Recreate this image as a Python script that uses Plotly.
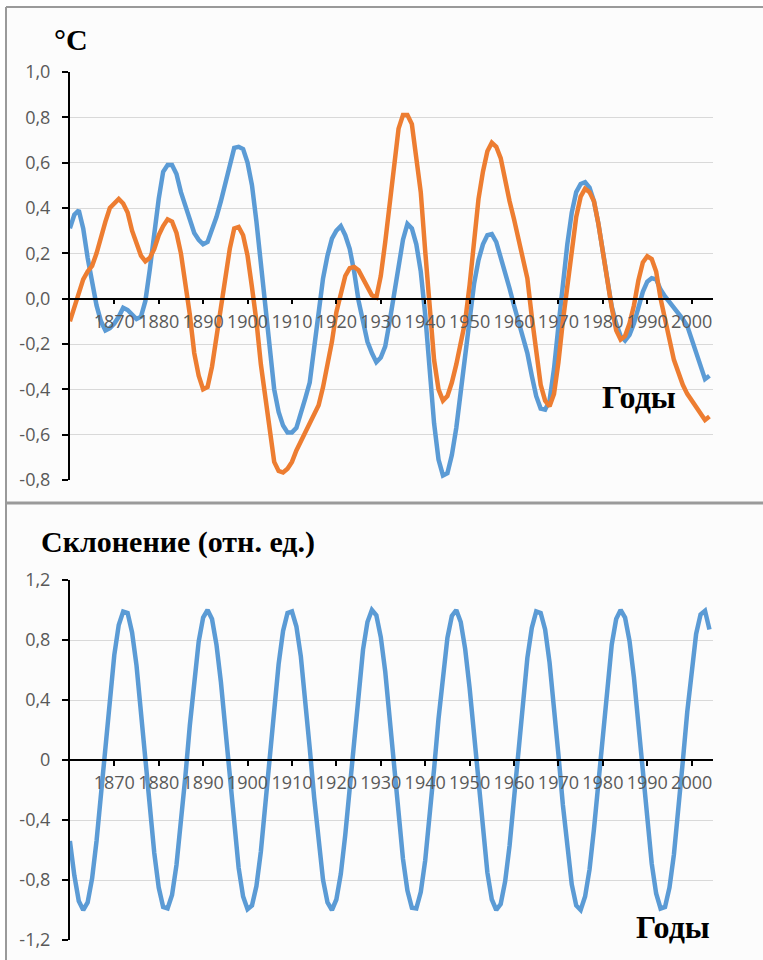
import plotly.graph_objects as go

W, H = 763, 960

years = list(range(1860, 2005))

temp_blue = [
    0.31, 0.37, 0.39, 0.31, 0.18, 0.08, -0.03, -0.10, -0.14, -0.13,
    -0.11, -0.08, -0.04, -0.05, -0.07, -0.09, -0.08, -0.01, 0.13, 0.30,
    0.44, 0.56, 0.59, 0.59, 0.55, 0.47, 0.41, 0.34, 0.29, 0.26,
    0.24, 0.25, 0.30, 0.36, 0.43, 0.51, 0.60, 0.665, 0.67, 0.66,
    0.60, 0.50, 0.34, 0.16, -0.02, -0.21, -0.40, -0.50, -0.56, -0.59,
    -0.59, -0.57, -0.51, -0.44, -0.37, -0.22, -0.05, 0.09, 0.19, 0.265,
    0.30, 0.32, 0.28, 0.22, 0.12, -0.01, -0.10, -0.19, -0.24, -0.28,
    -0.26, -0.21, -0.10, 0.02, 0.15, 0.26, 0.33, 0.31, 0.24, 0.12,
    -0.07, -0.32, -0.55, -0.71, -0.78, -0.77, -0.69, -0.57, -0.42, -0.26,
    -0.09, 0.065, 0.17, 0.24, 0.28, 0.285, 0.25, 0.185, 0.12, 0.045,
    -0.03, -0.105, -0.175, -0.24, -0.34, -0.43, -0.485, -0.49, -0.45, -0.31,
    -0.12, 0.07, 0.24, 0.38, 0.47, 0.506, 0.514, 0.49, 0.43, 0.33,
    0.20, 0.08, -0.035, -0.11, -0.165, -0.185, -0.16, -0.11, -0.035, 0.03,
    0.075, 0.09, 0.085, 0.04, 0.01, -0.015, -0.04, -0.06, -0.09, -0.12,
    -0.18, -0.25, -0.31, -0.355, -0.34,
]

temp_orange = [
    -0.10, -0.04, 0.03, 0.085, 0.12, 0.145, 0.20, 0.28, 0.34, 0.40,
    0.42, 0.44, 0.42, 0.38, 0.30, 0.24, 0.19, 0.165, 0.18, 0.22,
    0.28, 0.32, 0.35, 0.34, 0.29, 0.20, 0.07, -0.07, -0.24, -0.34,
    -0.40, -0.39, -0.30, -0.17, -0.03, 0.11, 0.22, 0.31, 0.316, 0.28,
    0.19, 0.05, -0.10, -0.29, -0.44, -0.59, -0.72, -0.76, -0.767, -0.75,
    -0.72, -0.67, -0.63, -0.59, -0.56, -0.52, -0.47, -0.39, -0.29, -0.19,
    -0.06, 0.03, 0.10, 0.135, 0.14, 0.125, 0.09, 0.045, 0.015, 0.005,
    0.10, 0.25, 0.42, 0.61, 0.75, 0.81, 0.81, 0.77, 0.63, 0.47,
    0.21, -0.05, -0.27, -0.40, -0.45, -0.43, -0.37, -0.29, -0.19, -0.10,
    0.06, 0.25, 0.44, 0.56, 0.65, 0.688, 0.67, 0.62, 0.52, 0.43,
    0.35, 0.27, 0.19, 0.09, -0.08, -0.25, -0.38, -0.45, -0.475, -0.42,
    -0.28, -0.10, 0.06, 0.22, 0.36, 0.45, 0.485, 0.47, 0.43, 0.33,
    0.20, 0.08, -0.04, -0.14, -0.18, -0.165, -0.11, -0.03, 0.08, 0.16,
    0.187, 0.175, 0.12, 0.00, -0.08, -0.18, -0.27, -0.33, -0.38, -0.42,
    -0.45, -0.475, -0.51, -0.535, -0.52,
]

declination = [
    -0.54, -0.77, -0.94, -1.00, -0.95, -0.79, -0.54, -0.23, 0.10, 0.43,
    0.70, 0.90, 0.99, 0.98, 0.85, 0.63, 0.33, 0.00, -0.33, -0.62,
    -0.85, -0.98, -0.99, -0.90, -0.70, -0.43, -0.11, 0.23, 0.54, 0.79,
    0.95, 1.00, 0.94, 0.77, 0.52, 0.21, -0.13, -0.45, -0.72, -0.91,
    -0.995, -0.97, -0.84, -0.61, -0.31, 0.02, 0.35, 0.64, 0.86, 0.98,
    0.99, 0.89, 0.69, 0.41, 0.08, -0.25, -0.56, -0.80, -0.95, -1.00,
    -0.93, -0.76, -0.50, -0.19, 0.15, 0.47, 0.735, 0.92, 1.00, 0.965,
    0.82, 0.59, 0.29, -0.05, -0.37, -0.66, -0.87, -0.985, -0.99, -0.88,
    -0.67, -0.39, -0.06, 0.275, 0.58, 0.815, 0.96, 1.00, 0.92, 0.74,
    0.48, 0.16, -0.17, -0.49, -0.75, -0.93, -1.00, -0.96, -0.81, -0.57,
    -0.265, 0.07, 0.40, 0.68, 0.88, 0.99, 0.98, 0.87, 0.65, 0.365,
    0.035, -0.30, -0.60, -0.83, -0.97, -1.00, -0.91, -0.73, -0.46, -0.14,
    0.20, 0.51, 0.77, 0.94, 1.00, 0.95, 0.795, 0.55, 0.24, -0.09,
    -0.42, -0.69, -0.89, -0.99, -0.98, -0.85, -0.63, -0.34, -0.01, 0.32,
    0.615, 0.84, 0.97, 0.995, 0.87,
]

x_ticks = list(range(1870, 2001, 10))
x_ticklabels = [str(v) for v in x_ticks]
top_yticks = [-0.8, -0.6, -0.4, -0.2, 0.0, 0.2, 0.4, 0.6, 0.8, 1.0]
top_yticklabels = ["-0,8", "-0,6", "-0,4", "-0,2", "0,0", "0,2", "0,4", "0,6", "0,8", "1,0"]
bot_yticks = [-1.2, -0.8, -0.4, 0, 0.4, 0.8, 1.2]
bot_yticklabels = ["-1,2", "-0,8", "-0,4", "0", "0,4", "0,8", "1,2"]

BLUE = "#5B9BD5"
ORANGE = "#ED7D31"
GRID = "#d9d9d9"
TICKFONT = dict(family="Open Sans, Liberation Sans, sans-serif", size=18, color="#595959")
SERIF = "Liberation Serif, Times New Roman, serif"
LW = 4.5

def px(x):
    return x / W

def py(y):
    return 1 - y / H

xdom = [px(69), px(713)]
xrange = [1859.8, 2004.8]

top_dom = [py(480), py(72)]
top_rng = [-0.8, 1.0]
bot_dom = [py(940), py(580)]
bot_rng = [-1.2, 1.2]

def zero_pos(dom, rng):
    return dom[0] + (0 - rng[0]) / (rng[1] - rng[0]) * (dom[1] - dom[0])

fig = go.Figure()
fig.add_trace(go.Scatter(x=years, y=temp_blue, mode="lines", xaxis="x", yaxis="y",
                         line=dict(color=BLUE, width=LW), showlegend=False))
fig.add_trace(go.Scatter(x=years, y=temp_orange, mode="lines", xaxis="x", yaxis="y",
                         line=dict(color=ORANGE, width=LW), showlegend=False))
fig.add_trace(go.Scatter(x=years, y=declination, mode="lines", xaxis="x2", yaxis="y2",
                         line=dict(color=BLUE, width=LW), showlegend=False))

common_x = dict(domain=xdom, range=xrange, showgrid=False, zeroline=False, automargin=False,
                tickvals=x_ticks, ticktext=x_ticklabels, tickfont=TICKFONT,
                showline=True, linecolor="#000000", linewidth=1.5,
                tickcolor="#000000", tickwidth=1.5, ticklen=5, ticks="outside",
                ticklabelstandoff=2, fixedrange=True)
overlay_x = dict(domain=xdom, range=xrange, showgrid=False, zeroline=False, automargin=False,
                 tickvals=x_ticks, showticklabels=False, showline=False,
                 tickcolor="#000000", tickwidth=1.5, ticklen=6, ticks="inside")

common_y = dict(showgrid=True, gridcolor=GRID, gridwidth=1, zeroline=False, automargin=False,
                showline=True, linecolor="#000000", linewidth=2,
                tickcolor="#000000", tickwidth=2, ticklen=6, ticks="outside",
                tickfont=TICKFONT, ticklabelstandoff=8, anchor="free", position=px(69),
                fixedrange=True)
overlay_y = dict(showgrid=False, zeroline=False, showline=False, showticklabels=False,
                 automargin=False, tickcolor="#000000", tickwidth=2, ticklen=3, ticks="inside",
                 anchor="free", position=px(69))

fig.update_layout(
    template="none",
    width=W, height=H,
    margin=dict(l=0, r=0, t=0, b=0, pad=0, autoexpand=False),
    paper_bgcolor="#ffffff",
    plot_bgcolor="rgba(0,0,0,0)",
    showlegend=False,
    xaxis=dict(**common_x, anchor="free", position=zero_pos(top_dom, top_rng)),
    xaxis3=dict(**overlay_x, anchor="free", position=zero_pos(top_dom, top_rng), overlaying="x"),
    yaxis=dict(**common_y, domain=top_dom, range=top_rng, tickvals=top_yticks, ticktext=top_yticklabels),
    yaxis3=dict(**overlay_y, domain=top_dom, range=top_rng, tickvals=top_yticks, overlaying="y"),
    xaxis2=dict(**common_x, anchor="free", position=zero_pos(bot_dom, bot_rng)),
    xaxis4=dict(**overlay_x, anchor="free", position=zero_pos(bot_dom, bot_rng), overlaying="x2"),
    yaxis2=dict(**common_y, domain=bot_dom, range=bot_rng, tickvals=bot_yticks, ticktext=bot_yticklabels),
    yaxis4=dict(**overlay_y, domain=bot_dom, range=bot_rng, tickvals=bot_yticks, overlaying="y2"),
)

shapes = [
    dict(type="rect", xref="paper", yref="paper", x0=px(6), x1=1.0, y0=0, y1=py(7),
         fillcolor="#fcfcfc", line=dict(width=0), layer="below"),
    dict(type="line", xref="paper", yref="paper", x0=px(6), x1=1.0, y0=py(7), y1=py(7),
         line=dict(color="#9a9a9a", width=2)),
    dict(type="line", xref="paper", yref="paper", x0=px(6), x1=px(6), y0=0, y1=py(7),
         line=dict(color="#9a9a9a", width=2)),
    dict(type="line", xref="paper", yref="paper", x0=px(6), x1=1.0, y0=py(503), y1=py(503),
         line=dict(color="#9a9a9a", width=3)),
]
fig.update_layout(shapes=shapes)

annotations = [
    dict(text="°C", x=px(52), y=py(39.5), size=30),
    dict(text="Годы", x=px(600), y=py(396.7), size=32),
    dict(text="Склонение (отн. ед.)", x=px(39), y=py(541.7), size=30),
    dict(text="Годы", x=px(634), y=py(926.7), size=32),
]
for a in annotations:
    fig.add_annotation(xref="paper", yref="paper", showarrow=False, text=a["text"],
                       x=a["x"], y=a["y"], xanchor="left", yanchor="middle",
                       font=dict(family=SERIF, size=a["size"], color="#000000", weight="bold"))

fig.write_html("out.html")
